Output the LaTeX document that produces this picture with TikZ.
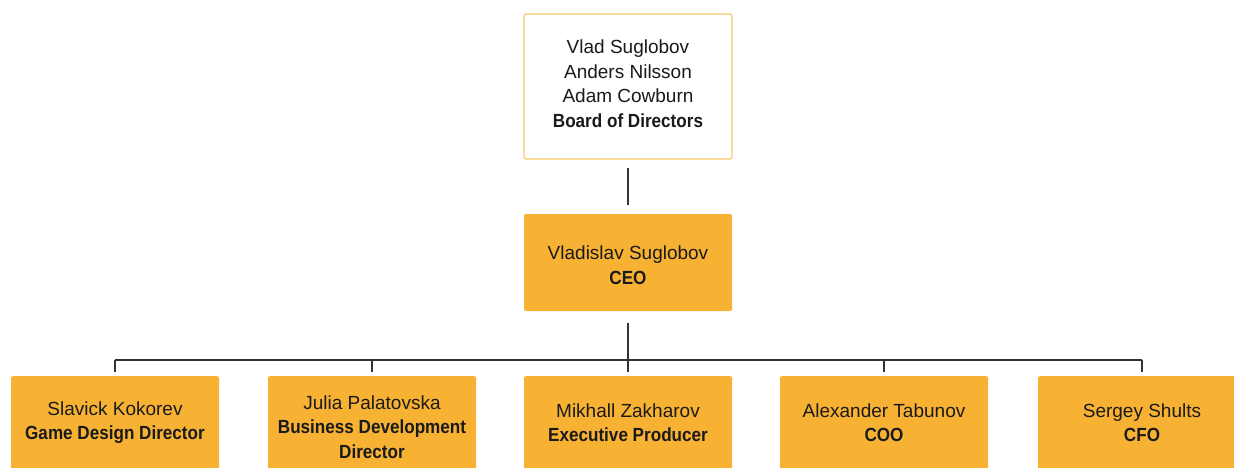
\documentclass[tikz,border=0pt]{standalone}
\usepackage{fontspec}
\setmainfont{Liberation Sans}[BoldFeatures={FakeStretch=0.9}]
\definecolor{boxfill}{HTML}{F7B234}
\definecolor{boxedge}{HTML}{FBC66D}
\definecolor{wire}{HTML}{333333}
\definecolor{ink}{HTML}{1A1A1A}
\tikzset{
  orgbox/.style={rectangle, rounded corners=2pt, minimum width=208pt, inner sep=0pt, fill=boxfill, draw=none},
  boardbox/.style={rectangle, rounded corners=2pt, minimum width=208pt, minimum height=145pt, inner sep=0pt, fill=white, draw=boxedge, line width=1.1pt},
  orgtext/.style={align=center, inner sep=0pt, text=ink, font=\fontsize{19}{24.5}\selectfont},
  wireline/.style={draw=wire, line width=1.2pt}
}
\begin{document}
\begin{tikzpicture}[x=1pt,y=-1pt]
\useasboundingbox (0,0) rectangle (1234,468);
\clip (0,0) rectangle (1234,468);
% boxes
\node[boardbox] (board) at (628,86.5) {};
\node[orgbox, minimum height=97pt] (ceo) at (628,262.5) {};
\node[orgbox, minimum height=120pt, anchor=north] (b1) at (115,376) {};
\node[orgbox, minimum height=120pt, anchor=north] (b2) at (372,376) {};
\node[orgbox, minimum height=120pt, anchor=north] (b3) at (628,376) {};
\node[orgbox, minimum height=120pt, anchor=north] (b4) at (884,376) {};
\node[orgbox, minimum height=120pt, anchor=north] (b5) at (1142,376) {};
% texts
\node[orgtext] (tboard) at (628,83.5) {Vlad Suglobov\\Anders Nilsson\\Adam Cowburn\\\textbf{Board of Directors}};
\node[orgtext] (tceo) at (628,265) {Vladislav Suglobov\\\textbf{CEO}};
\node[orgtext] (t1) at (115,422.5) {Slavick Kokorev\\\textbf{Game Design Director}};
\node[orgtext] (t2) at (372,427) {Julia Palatovska\\\textbf{Business Development}\\\textbf{Director}};
\node[orgtext] (t3) at (628,422.5) {Mikhall Zakharov\\\textbf{Executive Producer}};
\node[orgtext] (t4) at (884,422.5) {Alexander Tabunov\\\textbf{COO}};
\node[orgtext] (t5) at (1142,422.5) {Sergey Shults\\\textbf{CFO}};
% connectors
\coordinate (hub) at (628,360);
\draw[wireline, shorten <=8pt, shorten >=9pt] (board.south) -- (ceo.north);
\draw[wireline, shorten <=12pt, shorten >=4pt] (ceo.south) -- (b3.north);
\draw[wireline] (b1.north |- hub) -- (b5.north |- hub);
\draw[wireline, shorten >=4pt] (b1.north |- hub) -- (b1.north);
\draw[wireline, shorten >=4pt] (b2.north |- hub) -- (b2.north);
\draw[wireline, shorten >=4pt] (b4.north |- hub) -- (b4.north);
\draw[wireline, shorten >=4pt] (b5.north |- hub) -- (b5.north);
\end{tikzpicture}
\end{document}
